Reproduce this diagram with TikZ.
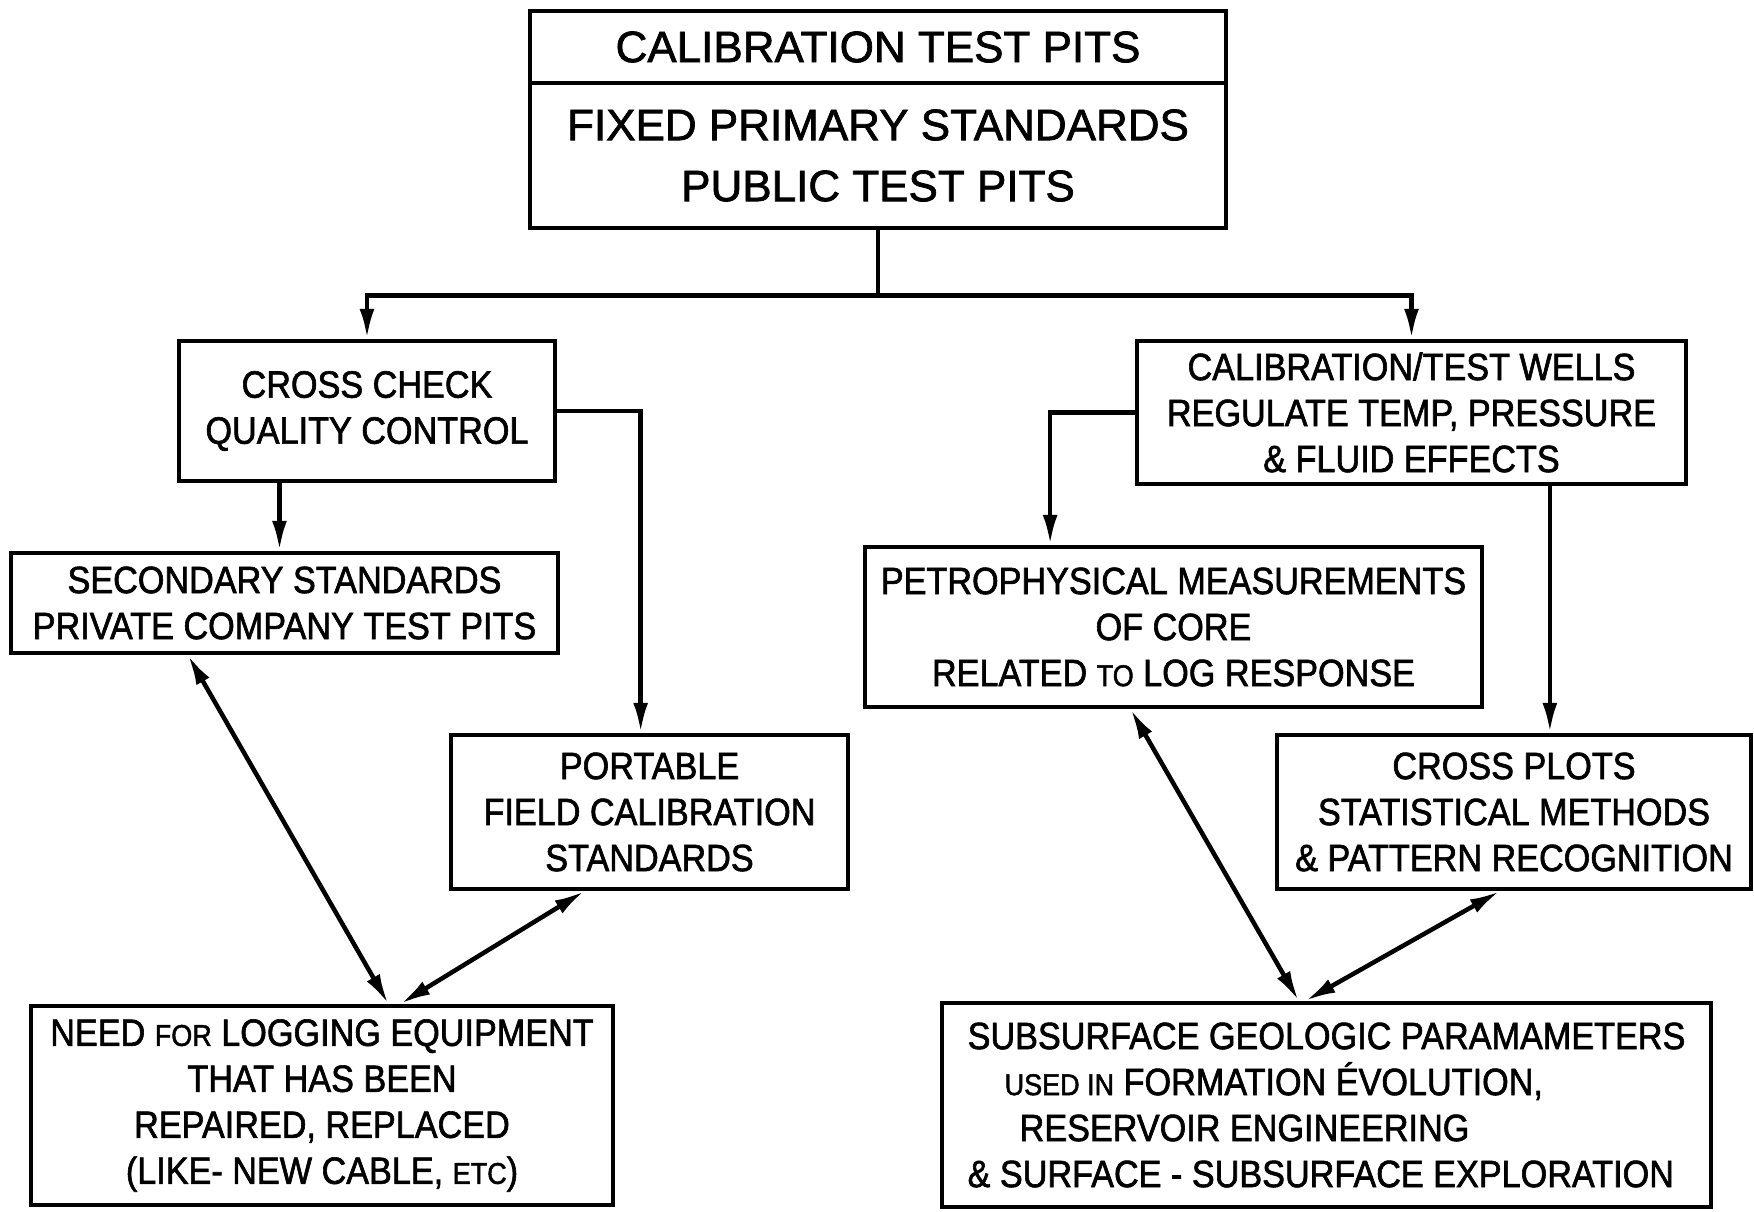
\documentclass[tikz,border=0pt]{standalone}
\usepackage{fontspec}
\newfontfamily\bodyfont[FakeStretch=0.9,FakeBold=1.6]{Liberation Sans}
\newfontfamily\topfont[FakeBold=1.6]{Liberation Sans}
\usetikzlibrary{arrows.meta,calc}
\newcommand\sw[1]{{\fontsize{30}{46}\selectfont #1}}
\begin{document}
\begin{tikzpicture}[x=1pt,y=-1pt,
  box/.style={draw,line width=4.5pt,rectangle,inner sep=0pt,align=center,
    font=\bodyfont\fontsize{38}{46}\selectfont},
  topbox/.style={box,font=\topfont\fontsize{44}{61}\selectfont},
  conn/.style={line width=4.5pt},
  arr/.style={conn,-{Latex[length=30pt,width=15pt]}},
  darr/.style={conn,{Latex[length=30pt,width=15pt]}-{Latex[length=30pt,width=15pt]}}]
\useasboundingbox (0,0) rectangle (1754,1212);
% boxes
\node[topbox,minimum width=696pt,minimum height=72pt] (t1) at (878,47) {CALIBRATION TEST PITS};
\node[topbox,minimum width=696pt,minimum height=145pt] (t2) at (878,155.5) {FIXED PRIMARY STANDARDS\\PUBLIC TEST PITS};
\node[box,minimum width=376pt,minimum height=140pt] (cross) at (367,411) {CROSS CHECK\\QUALITY CONTROL};
\node[box,minimum width=549pt,minimum height=143pt] (wells) at (1411.5,412.5) {CALIBRATION/TEST WELLS\\REGULATE TEMP, PRESSURE\\\& FLUID EFFECTS};
\node[box,minimum width=547pt,minimum height=100pt] (sec) at (284.5,603) {SECONDARY STANDARDS\\PRIVATE COMPANY TEST PITS};
\node[box,minimum width=397pt,minimum height=154pt] (port) at (649.5,812) {PORTABLE\\FIELD CALIBRATION\\STANDARDS};
\node[box,minimum width=582pt,minimum height=199pt] (need) at (322,1105.5) {NEED \sw{FOR} LOGGING EQUIPMENT\\THAT HAS BEEN\\REPAIRED, REPLACED\\(LIKE- NEW CABLE, \sw{ETC})};
\node[box,minimum width=617pt,minimum height=160pt] (petro) at (1173.5,627) {PETROPHYSICAL MEASUREMENTS\\OF CORE\\RELATED \sw{TO} LOG RESPONSE};
\node[box,minimum width=474pt,minimum height=154pt] (cplots) at (1514,812) {CROSS PLOTS\\STATISTICAL METHODS\\\& PATTERN RECOGNITION};
\node[box,align=left,minimum width=769pt,minimum height=204pt] (sub) at (1326.5,1105) {SUBSURFACE GEOLOGIC PARAMAMETERS\\\hspace*{37pt}\sw{USED IN} FORMATION ÉVOLUTION,\\\hspace*{52pt}RESERVOIR ENGINEERING\\\& SURFACE - SUBSURFACE EXPLORATION};
% connectors
\coordinate (j) at ($(t2.south)+(0,65)$);
\draw[conn] (t2.south) -- (j);
\draw[arr] (j) -| (cross.north);
\draw[arr] (j) -| (wells.north);
\coordinate (cs) at ($(cross.south west)!0.27!(cross.south east)$);
\draw[arr] (cs) -- (cs |- sec.north);
\draw[arr] (cross.east) -| ($(port.north west)!0.478!(port.north east)$);
\draw[darr] ($(sec.south west)!0.325!(sec.south east)$) -- ($(need.north west)!0.613!(need.north east)$);
\draw[darr] ($(port.south west)!0.3375!(port.south east)$) -- ($(need.north west)!0.634!(need.north east)$);
\draw[arr] (wells.west) -| ($(petro.north west)!0.3015!(petro.north east)$);
\coordinate (ws) at ($(wells.south west)!0.75!(wells.south east)$);
\draw[arr] (ws) -- (ws |- cplots.north);
\draw[darr] ($(petro.south west)!0.431!(petro.south east)$) -- ($(sub.north west)!0.464!(sub.north east)$);
\draw[darr] ($(cplots.south west)!0.47!(cplots.south east)$) -- ($(sub.north west)!0.473!(sub.north east)$);
\end{tikzpicture}
\end{document}
